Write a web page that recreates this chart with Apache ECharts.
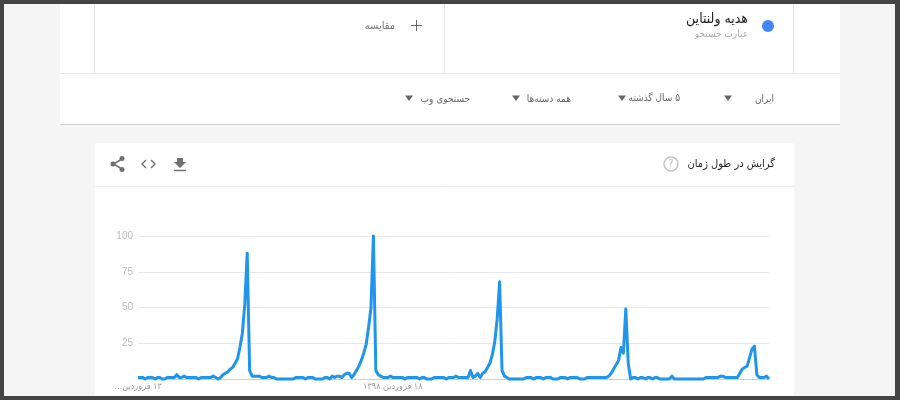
<!DOCTYPE html>
<html dir="rtl" lang="fa">
<head>
<meta charset="utf-8">
<style>html,body{margin:0;padding:0;background:#f5f5f5}#c{width:900px;height:400px}</style>
<script src="https://cdn.jsdelivr.net/npm/echarts@6/dist/echarts.min.js"></script>
</head>
<body>
<div id="c"></div>
<script>
const year1 = [1,1,1,0,1,1,1,0,1,1,0,0,1,1,1,1,3,1,1,2,1,1,1,1,1,0,1,1,1,1,1,2,1,0,1,3,4,5,7,8,11,14,22,32,52,88,6,2,2,2,2,1];
const year2 = [1,1,2,1,1,0,0,0,0,0,0,0,0,1,1,1,1,0,1,1,1,0,0,0,0,1,1,0,2,1,2,2,1,3,4,4,1,3,6,9,13,18,24,36,50,100,6,3,2,1,1,1];
const year3 = [2,1,1,1,1,1,0,1,1,1,1,1,0,1,1,0,0,0,1,1,1,1,1,0,1,1,1,2,1,1,1,1,1,6,1,2,4,1,4,5,8,11,17,26,42,68,6,2,1,0,0,0];
const year4 = [0,0,0,0,1,1,1,0,1,1,1,0,1,1,1,0,0,0,1,1,1,0,1,1,1,1,0,0,0,1,1,1,1,1,1,1,1,1,2,4,7,10,13,22,18,49,11,0,1,1,0,1];
const year5 = [1,0,1,1,0,1,1,0,0,0,0,0,2,0,0,0,0,0,0,0,0,0,0,0,0,0,1,1,1,1,1,1,2,2,1,1,1,1,1,1,4,7,8,9,15,21,23,3,1,1,1,2,0];
const values = [...year1, ...year2, ...year3, ...year4, ...year5];
const categories = values.map((_, i) => i);
const xTickIndex = [0, 105, 210];
const xTickLabels = ['۱۳ فروردین…', '۱۸ فروردین ۱۳۹۸', '۲۲ فروردین ۱۴۰۰'];
const yTicks = [0, 25, 50, 75, 100];
const termName = 'هدیه ولنتاین';
const termType = 'عبارت جستجو';
const compareLabel = 'مقایسه';
const filters = ['ایران', '۵ سال گذشته', 'همه دسته‌ها', 'جستجوی وب'];
const cardTitle = 'گرایش در طول زمان';

const FONT = '"DejaVu Sans Condensed", "DejaVu Sans", sans-serif';
const rect = (x, y, w, h, fill, z, r) => ({type:'rect', silent:true, z, shape:{x,y,width:w,height:h,r:r||0}, style:{fill}});
const line = (x1, y1, x2, y2, stroke, z, w) => ({type:'line', silent:true, z, shape:{x1,y1,x2,y2}, style:{stroke, lineWidth:w||1}});
const text = (x, y, t, size, fill, z) => ({type:'text', silent:true, z, x, y, style:{text:t, font:size+'px '+FONT, fill, textAlign:'right', textVerticalAlign:'middle'}});
const tri = (cx, cy) => ({type:'polygon', silent:true, z:3, shape:{points:[[cx-4,cy-2.5],[cx+4,cy-2.5],[cx,cy+3]]}, style:{fill:'#666'}});
const poly = (points, stroke, w) => ({type:'polyline', silent:true, z:3, shape:{points}, style:{stroke, lineWidth:w, fill:null}});

const chrome = [
  rect(60, 4, 780, 120, '#fff', 1),
  line(60, 124.5, 840, 124.5, '#cfcfcf', 2),
  line(60, 73.5, 840, 73.5, '#e6e6e6', 2),
  line(94.5, 4, 94.5, 73, '#e6e6e6', 2),
  line(444.5, 4, 444.5, 73, '#e6e6e6', 2),
  line(793.5, 4, 793.5, 73, '#e6e6e6', 2),
  {type:'circle', silent:true, z:3, shape:{cx:768, cy:26, r:6}, style:{fill:'#4285f4'}},
  text(748, 19, termName, 14, '#222', 3),
  text(748, 34, termType, 10, '#aaa', 3),
  line(416.5, 20, 416.5, 31, '#666', 3),
  line(411, 25.5, 422, 25.5, '#666', 3),
  text(395, 26, compareLabel, 11, '#777', 3),
  text(774, 99, filters[0], 10, '#666', 3), tri(728, 98),
  text(680, 98, filters[1], 10, '#666', 3), tri(622, 98),
  text(571, 99, filters[2], 10, '#666', 3), tri(516, 98),
  text(470, 99, filters[3], 10, '#666', 3), tri(409, 98),
  rect(95, 143, 699, 253, '#fff', 1, 2),
  line(95, 186.5, 794, 186.5, '#ececec', 2),
  text(775, 164, cardTitle, 11, '#222', 3),
  {type:'circle', silent:true, z:3, shape:{cx:671, cy:164, r:7}, style:{fill:null, stroke:'#c4c4c4', lineWidth:1.5}},
  {type:'text', silent:true, z:3, x:671, y:164, style:{text:'?', font:'10px '+FONT, fill:'#bbb', textAlign:'center', textVerticalAlign:'middle'}},
  {type:'polygon', silent:true, z:3, shape:{points:[[177,158],[183,158],[183,162],[186,162],[180,168],[174,162],[177,162]]}, style:{fill:'#707070'}},
  line(174, 170.5, 186, 170.5, '#707070', 3, 1.5),
  poly([[146,160],[142,164],[146,168]], '#707070', 1.4),
  poly([[151,160],[155,164],[151,168]], '#707070', 1.4),
  poly([[122,159],[113.5,164],[122,169]], '#707070', 1.5),
  {type:'circle', silent:true, z:3, shape:{cx:122, cy:158.5, r:2.5}, style:{fill:'#707070'}},
  {type:'circle', silent:true, z:3, shape:{cx:113, cy:164, r:2.5}, style:{fill:'#707070'}},
  {type:'circle', silent:true, z:3, shape:{cx:122, cy:169.5, r:2.5}, style:{fill:'#707070'}},
  rect(0, 0, 900, 4, '#444', 20),
  rect(0, 396, 900, 4, '#444', 20),
  rect(0, 0, 4, 400, '#444', 20),
  rect(895, 0, 5, 400, '#444', 20)
];

const chart = echarts.init(document.getElementById('c'), null, {renderer:'canvas'});
chart.setOption({
  animation:false,
  backgroundColor:'#f5f5f5',
  graphic:{elements:chrome},
  grid:{left:138, right:131, top:236, bottom:21, containLabel:false, z:5},
  xAxis:{
    type:'category', boundaryGap:false, data:categories, z:5,
    axisLine:{lineStyle:{color:'#cfcfcf', width:1}},
    axisTick:{show:false},
    splitLine:{show:false},
    axisLabel:{
      margin:3, hideOverlap:false, showMinLabel:true, showMaxLabel:false,
      interval:(i) => xTickIndex.includes(i),
      formatter:(v) => xTickLabels[xTickIndex.indexOf(Number(v))] || '',
      color:'#999', fontSize:9, fontFamily:FONT
    }
  },
  yAxis:{
    type:'value', min:yTicks[0], max:yTicks[4], interval:yTicks[1], z:5,
    axisLine:{show:false}, axisTick:{show:false},
    splitLine:{lineStyle:{color:'#e8e8e8', width:1}},
    axisLabel:{margin:5, color:'#bbb', fontSize:10, fontFamily:'"Liberation Sans", Arial, sans-serif',
      formatter:(v) => v === 0 ? '' : String(v)}
  },
  series:[{
    type:'line', data:values, z:6, showSymbol:false, smooth:false, clip:false,
    lineStyle:{color:'#1f96ec', width:3, join:'round'}
  }]
});
</script>
</body>
</html>
